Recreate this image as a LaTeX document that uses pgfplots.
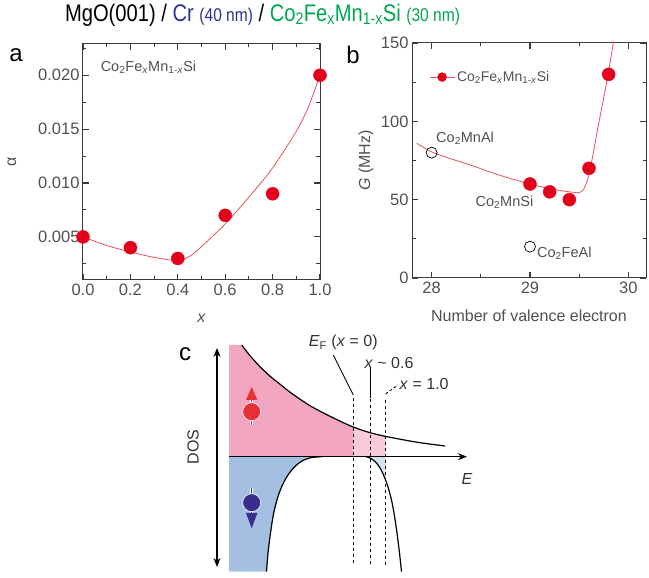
\documentclass[border=0pt]{standalone}
\usepackage{fontspec}
\setmainfont{Liberation Sans}
\usepackage{graphicx}
\usepackage{xcolor}
\usepackage{pgfplots}
\pgfplotsset{compat=1.18}
\usetikzlibrary{arrows.meta}

\definecolor{dotred}{HTML}{E3001B}
\definecolor{fitred}{HTML}{E8505E}
\definecolor{framegray}{HTML}{3A3A3A}
\definecolor{ticktext}{HTML}{505050}
\definecolor{labeltext}{HTML}{333333}
\definecolor{crblue}{HTML}{2E3192}
\definecolor{cfmsgreen}{HTML}{00A651}
\definecolor{uppink}{HTML}{F3A6C1}
\definecolor{uppinklight}{HTML}{F8CADA}
\definecolor{downblue}{HTML}{A3C0E3}
\definecolor{downbluelight}{HTML}{D3E1F2}
\definecolor{spinred}{HTML}{E8303A}
\definecolor{spinblue}{HTML}{3A2E8C}

\newcommand{\cfms}{Co\textsubscript{2}Fe\textsubscript{\textit{x}}Mn\textsubscript{1-\textit{x}}Si}

\tikzset{frametick/.style={framegray, line width=1.1pt}}

\pgfplotsset{
  panel/.style={
    scale only axis, clip=false,
    axis line style={framegray, line width=1pt},
    tick style={framegray, line width=1.1pt},
    major tick length=6pt, minor tick length=3.5pt,
    tick align=inside, tick pos=both,
    tick label style={font=\fontsize{16.5}{18}\selectfont, text=ticktext},
    label style={font=\fontsize{16}{18}\selectfont, text=ticktext},
    /pgf/number format/assume math mode=true,
  },
}

\begin{document}
\begin{tikzpicture}
\path[use as bounding box] (0pt,0pt) rectangle (649pt,578pt);

% heading: layer stack
\node at (262.5pt,563pt) {\scalebox{0.84}[1]{\fontsize{24}{24}\selectfont MgO(001) / \textcolor{crblue}{Cr {\fontsize{18.5}{18.5}\selectfont(40 nm)}} / \textcolor{cfmsgreen}{Co\textsubscript{2}Fe\textsubscript{x}Mn\textsubscript{1-x}Si {\fontsize{18.5}{18.5}\selectfont(30 nm)}}}};

% panel letters
\node[font=\fontsize{24}{24}\selectfont] at (16pt,523pt) {a};
\node[font=\fontsize{24}{24}\selectfont] at (353pt,523pt) {b};
\node[font=\fontsize{24}{24}\selectfont] at (185pt,224pt) {c};

% (a) damping constant versus Fe content
\begin{axis}[panel, at={(83pt,298pt)}, anchor=south west, width=237pt, height=236pt,
  xmin=0, xmax=1, ymin=0.001, ymax=0.0229,
  xtick={0,0.2,0.4,0.6,0.8,1.0}, minor xtick={0.1,0.3,0.5,0.7,0.9},
  ytick={0.005,0.010,0.015,0.020}, minor ytick={0.0025,0.0075,0.0125,0.0175,0.0225},
  xticklabel style={/pgf/number format/.cd, fixed, fixed zerofill, precision=1},
  yticklabel style={/pgf/number format/.cd, fixed, fixed zerofill, precision=3},
  scaled y ticks=false,
  xlabel={\textit{x}}, ylabel={α},
  xlabel style={at={(axis description cs:0.5,-0.161)}, anchor=center},
  ylabel style={at={(axis description cs:-0.30,0.5)}, anchor=center},
]
% inward tick marks on all four sides
\pgfplotsinvokeforeach{0,0.2,0.4,0.6,0.8,1.0}{
  \draw[frametick] (axis cs:#1,0.001) -- ++(0pt,6pt);
  \draw[frametick] (axis cs:#1,0.0229) -- ++(0pt,-6pt);}
\pgfplotsinvokeforeach{0.1,0.3,0.5,0.7,0.9}{
  \draw[frametick] (axis cs:#1,0.001) -- ++(0pt,3.5pt);
  \draw[frametick] (axis cs:#1,0.0229) -- ++(0pt,-3.5pt);}
\pgfplotsinvokeforeach{0.005,0.010,0.015,0.020}{
  \draw[frametick] (axis cs:0,#1) -- ++(6pt,0pt);
  \draw[frametick] (axis cs:1,#1) -- ++(-6pt,0pt);}
\pgfplotsinvokeforeach{0.0025,0.0075,0.0125,0.0175,0.0225}{
  \draw[frametick] (axis cs:0,#1) -- ++(3.5pt,0pt);
  \draw[frametick] (axis cs:1,#1) -- ++(-3.5pt,0pt);}
\addplot[fitred, line width=0.8pt, smooth, tension=0.5] coordinates {
  (0,0.0050) (0.1,0.0042) (0.2,0.0036) (0.3,0.0031) (0.4,0.0028) (0.45,0.0032)
  (0.5,0.0041) (0.6,0.0062) (0.7,0.0087) (0.8,0.0114) (0.9,0.0148) (0.95,0.0170) (1.0,0.0200)};
\addplot[only marks, mark=*, mark size=6.5pt, mark options={fill=dotred, draw=dotred}] coordinates {
  (0,0.005) (0.2,0.004) (0.4,0.003) (0.6,0.007) (0.8,0.009) (1.0,0.020)};
\node[anchor=west, font=\fontsize{14.5}{16}\selectfont, text=ticktext] at (rel axis cs:0.06,0.9) {\cfms};
\end{axis}

% (b) Gilbert relaxation versus number of valence electrons
\begin{axis}[panel, at={(412pt,300pt)}, anchor=south west, width=234pt, height=235pt,
  xmin=27.8, xmax=30.18, ymin=0, ymax=150,
  xtick={28,29,30}, minor xtick={28.5,29.5},
  ytick={0,50,100,150}, minor ytick={25,75,125},
  xlabel={Number of valence electron}, ylabel={\textit{G} (MHz)},
  xlabel style={at={(axis description cs:0.5,-0.162)}, anchor=center},
  ylabel style={at={(axis description cs:-0.197,0.5)}, anchor=center},
  legend style={at={(0.06,0.855)}, anchor=west, draw=none, fill=none,
    font=\fontsize{14}{16}\selectfont, text=ticktext},
  legend image code/.code={\draw[mark repeat=2, mark phase=2, #1] plot coordinates {(0pt,0pt) (12.5pt,0pt) (25pt,0pt)};},
]
% inward tick marks on all four sides
\pgfplotsinvokeforeach{28,29,30}{
  \draw[frametick] (axis cs:#1,0) -- ++(0pt,6pt);
  \draw[frametick] (axis cs:#1,150) -- ++(0pt,-6pt);}
\pgfplotsinvokeforeach{28.5,29.5}{
  \draw[frametick] (axis cs:#1,0) -- ++(0pt,3.5pt);
  \draw[frametick] (axis cs:#1,150) -- ++(0pt,-3.5pt);}
\pgfplotsinvokeforeach{50,100}{
  \draw[frametick] (axis cs:27.8,#1) -- ++(6pt,0pt);
  \draw[frametick] (axis cs:30.18,#1) -- ++(-6pt,0pt);}
\pgfplotsinvokeforeach{25,75,125}{
  \draw[frametick] (axis cs:27.8,#1) -- ++(3.5pt,0pt);
  \draw[frametick] (axis cs:30.18,#1) -- ++(-3.5pt,0pt);}
\addplot[fitred, line width=0.8pt, smooth, tension=0.45, forget plot] coordinates {
  (27.85,86) (28,80.5) (28.2,76) (28.4,72) (28.6,67.5) (28.8,63.5) (29,60) (29.2,57)
  (29.4,55) (29.5,54.5) (29.55,57) (29.6,66) (29.65,82) (29.7,99) (29.75,115) (29.8,132) (29.85,151)};
\addplot[only marks, mark=*, mark size=6.5pt, mark options={fill=dotred, draw=dotred}, forget plot] coordinates {
  (29,60) (29.2,55) (29.4,50) (29.6,70) (29.8,130)};
\addplot[only marks, mark=o, mark size=5.5pt, mark options={draw=black, fill=white, line width=0.7pt}, forget plot] coordinates {
  (28,80) (29,20)};
\addlegendimage{fitred, line width=0.8pt, mark=*, mark size=4.3pt, mark options={fill=dotred, draw=dotred}}
\addlegendentry{\cfms}
\node[font=\fontsize{14.5}{16}\selectfont, text=ticktext] at (axis cs:28.34,89.4) {Co\textsubscript{2}MnAl};
\node[font=\fontsize{14.5}{16}\selectfont, text=ticktext] at (axis cs:28.74,48.5) {Co\textsubscript{2}MnSi};
\node[anchor=west, inner sep=0pt, font=\fontsize{14.5}{16}\selectfont, text=ticktext] at (axis cs:29.07,16) {Co\textsubscript{2}FeAl};
\end{axis}

% (c) schematic spin-resolved density of states, drawn in a 1:1 point grid
\begin{axis}[at={(0pt,0pt)}, anchor=south west, scale only axis, width=649pt, height=578pt,
  xmin=0, xmax=649, ymin=0, ymax=578, hide axis, clip=false]
% majority band
\addplot[fill=uppink, draw=none] coordinates {
  (229,121.3) (229,233) (241.7,233) (250,222.3) (260,211.3) (270,201.8) (280,193.8) (290,185.8)
  (300,178.8) (310,172.3) (320,166.8) (335,159.3) (350,152.3) (353.3,151.1) (353.3,121.3)} -- cycle;
\addplot[fill=uppinklight, draw=none] coordinates {
  (353.3,121.3) (353.3,151.1) (365,146.8) (380,142.8) (385.5,141.6) (385.5,121.3)} -- cycle;
% minority band
\addplot[fill=downblue, draw=none] coordinates {
  (229,121.3) (322,121.3) (312,120.5) (305,118.5) (299,115) (293,109.5) (287,101.5) (282,92)
  (277.5,80) (273.5,64) (270.5,45) (268,25) (266.5,6.3) (229,6.3)} -- cycle;
\addplot[fill=downbluelight, draw=none] coordinates {
  (366,121.3) (385.5,121.3) (385.5,97.9) (384,102) (380,110) (376,115.5) (371,119.5)} -- cycle;
% band edges
\addplot[black, line width=1.2pt, smooth] coordinates {
  (241.7,233) (250,222.3) (260,211.3) (270,201.8) (280,193.8) (290,185.8) (300,178.8) (310,172.3)
  (320,166.8) (335,159.3) (350,152.3) (365,146.8) (380,142.8) (400,138.8) (420,135.3) (445,132)};
\addplot[black, line width=1.2pt, smooth] coordinates {
  (322,121.3) (312,120.5) (305,118.5) (299,115) (293,109.5) (287,101.5) (282,92)
  (277.5,80) (273.5,64) (270.5,45) (268,25) (266.5,6.3)};
\addplot[black, line width=1.2pt, smooth] coordinates {
  (366,121.3) (371,119.5) (376,115.5) (380,110) (384,102) (388,91) (391.5,78) (394.5,62)
  (397,45) (399.5,25) (401.5,6.3)};
% energy and DOS axes
\draw[-{Stealth[length=9pt,width=7pt]}, line width=1.3pt] (229,121.3) -- (467,121.3);
\draw[{Stealth[length=9pt,width=7pt]}-{Stealth[length=9pt,width=7pt]}, line width=1.3pt] (217,230) -- (217,11);
% Fermi level positions
\draw[line width=0.8pt, dash pattern=on 3.5pt off 2.5pt] (353.3,180) -- (353.3,13);
\draw[line width=0.8pt, dash pattern=on 3.5pt off 2.5pt] (370,179) -- (370,13);
\draw[line width=0.8pt, dash pattern=on 3.5pt off 2.5pt] (385.5,178) -- (385.5,13);
\draw[line width=0.8pt] (333.3,223) -- (353.3,183);
\draw[line width=0.8pt] (370,210) -- (370,180);
\draw[line width=0.8pt, dash pattern=on 3pt off 2pt] (385.5,184) -- (398,193);
\node[font=\fontsize{16}{18}\selectfont, text=labeltext] at (343.3,235.5) {\textit{E}\textsubscript{F} (\textit{x} = 0)};
\node[font=\fontsize{16}{18}\selectfont, text=labeltext] at (389,215) {\textit{x} \textasciitilde\ 0.6};
\node[anchor=west, inner sep=1pt, font=\fontsize{16}{18}\selectfont, text=labeltext] at (398.5,194) {\textit{x} = 1.0};
\node[font=\fontsize{16}{18}\selectfont, text=labeltext] at (467,99) {\textit{E}};
\node[rotate=90, font=\fontsize{16}{18}\selectfont, text=labeltext] at (193,131) {DOS};
% spin up
\draw[white, line width=3pt] (251.7,153) -- (251.7,180);
\draw[spinred, line width=1.5pt] (251.7,153) -- (251.7,180);
\fill[spinred, draw=white, line width=0.6pt] (251.7,166.3) circle[radius=9pt];
\fill[spinred] (251.7,191) -- (246,178) -- (257.4,178) -- cycle;
% spin down
\draw[white, line width=3pt] (251.7,89.7) -- (251.7,63);
\draw[spinblue, line width=1.5pt] (251.7,89.7) -- (251.7,63);
\fill[spinblue, draw=white, line width=0.6pt] (251.7,75.3) circle[radius=9pt];
\fill[spinblue] (251.7,49.7) -- (246,65) -- (257.4,65) -- cycle;
\end{axis}
\end{tikzpicture}
\end{document}
